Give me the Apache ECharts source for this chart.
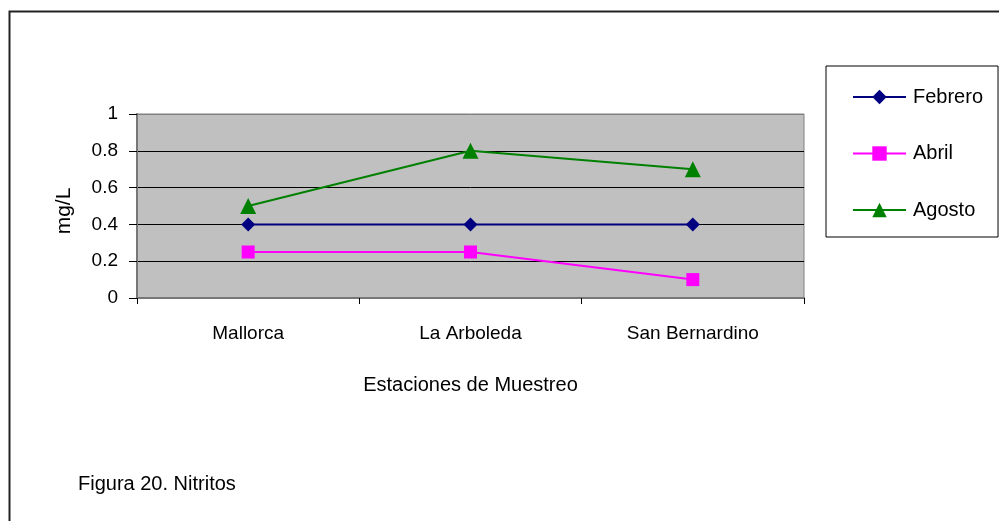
<!DOCTYPE html>
<html>
<head>
<meta charset="utf-8">
<title>Figura 20. Nitritos</title>
<script src="https://cdn.jsdelivr.net/npm/echarts@6/dist/echarts.min.js"></script>
<style>
  html, body { margin: 0; padding: 0; background: #fff; }
  #chart { width: 999px; height: 521px; }
</style>
</head>
<body>
<div id="chart"></div>
<script>
// Sampling stations and nitrite concentrations (mg/L)
var estaciones = ['Mallorca', 'La Arboleda', 'San Bernardino'];
var febrero = [0.4, 0.4, 0.4];
var abril = [0.25, 0.25, 0.1];
var agosto = [0.5, 0.8, 0.7];
var yTicks = [0, 0.2, 0.4, 0.6, 0.8, 1];

var FONT = "'Liberation Sans', Arial, sans-serif";

var chart = echarts.init(document.getElementById('chart'), null, { renderer: 'canvas' });

function lineSeries(name, data, color, symbol, size) {
  return {
    name: name,
    type: 'line',
    data: data,
    symbol: symbol,
    symbolSize: size,
    showAllSymbol: true,
    lineStyle: { color: color, width: 2 },
    itemStyle: { color: color },
    emphasis: { disabled: true },
    animation: false
  };
}

chart.setOption({
  animation: false,
  textStyle: { fontFamily: FONT },
  graphic: [
    {
      type: 'rect',
      left: 7, top: 9,
      shape: { width: 1100, height: 600 },
      style: { fill: 'none', stroke: '#222', lineWidth: 2 },
      silent: true
    },
    {
      type: 'text',
      left: 78, top: 474,
      style: { text: 'Figura 20. Nitritos', font: '20px ' + FONT, fill: '#000' },
      silent: true
    }
  ],
  grid: {
    left: 137, right: 195, top: 114, bottom: 223,
    show: true,
    backgroundColor: '#C0C0C0',
    borderColor: '#808080',
    borderWidth: 1
  },
  legend: {
    orient: 'vertical',
    left: 826, top: 66,
    padding: [21, 15, 17, 26],
    borderColor: '#000',
    borderWidth: 1,
    backgroundColor: '#fff',
    itemWidth: 53,
    itemHeight: 18,
    itemGap: 36.5,
    textStyle: { fontSize: 20, lineHeight: 20, color: '#000', fontFamily: FONT, padding: [0, 0, 0, 2] },
    data: ['Febrero', 'Abril', 'Agosto'],
    selectedMode: false
  },
  xAxis: {
    type: 'category',
    data: estaciones,
    boundaryGap: true,
    name: 'Estaciones de Muestreo',
    nameLocation: 'middle',
    nameGap: 77,
    nameTextStyle: { fontSize: 20, color: '#000', fontFamily: FONT },
    axisLine: { lineStyle: { color: '#777', width: 2 } },
    axisTick: { show: true, length: 6, lineStyle: { color: '#000' } },
    axisLabel: { fontSize: 19, color: '#000', margin: 26, fontFamily: FONT },
    splitLine: { show: false }
  },
  yAxis: {
    type: 'value',
    min: yTicks[0],
    max: yTicks[yTicks.length - 1],
    interval: 0.2,
    name: 'mg/L',
    nameLocation: 'middle',
    nameRotate: 90,
    nameGap: 62,
    nameTextStyle: { fontSize: 21, color: '#000', fontFamily: FONT, padding: [0, 10, 0, 0] },
    axisLine: { show: true, lineStyle: { color: '#777', width: 2 } },
    axisTick: { show: true, length: 8, lineStyle: { color: '#000' } },
    axisLabel: { fontSize: 19, color: '#000', margin: 19, fontFamily: FONT },
    splitLine: {
      show: true,
      lineStyle: { color: ['#777', '#000', '#000', '#000', '#000', '#808080'], width: 1 }
    }
  },
  series: [
    lineSeries('Febrero', febrero, '#000080', 'diamond', 14),
    lineSeries('Abril', abril, '#FF00FF', 'rect', 13),
    lineSeries('Agosto', agosto, '#008000', 'triangle', 16)
  ]
});
</script>
</body>
</html>
